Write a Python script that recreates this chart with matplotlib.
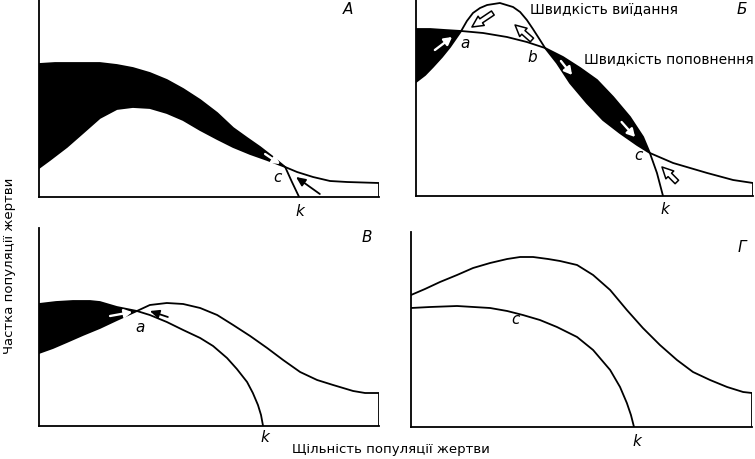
import numpy as np
import matplotlib
matplotlib.use("Agg")
import matplotlib.pyplot as plt

#prey density (arbitrary units, 0-100) and proportion of prey population (arbitrary units)
#panel A
xA_rec = [0, 4.7, 9.1, 13.5, 17.9, 22.9, 27.6, 32.6, 37.6, 42.4, 47.4, 52.4, 57.1, 61.2, 65.0, 68.8, 72.4, 74.4, 76.5]
yA_rec = [66.5, 67, 67, 67, 67, 66, 64.5, 62, 58.5, 54, 48.5, 42, 34.5, 29.5, 25, 20, 15, 7.5, 0]
xA_pred = [0, 3.2, 8.2, 12.9, 17.9, 22.9, 27.6, 32.6, 37.6, 42.4, 47.4, 52.4, 57.1, 62.1, 67.1, 72.4, 75.9, 80.6, 85.6, 90.6, 100, 100]
yA_pred = [14.5, 18.5, 25, 32, 39.5, 44, 45, 44.5, 42, 38.5, 33.5, 29, 25, 21.5, 18.5, 15, 12.5, 10, 8, 7.5, 7, 0]

#panel B (Б)
xB_rec = [0, 4.2, 8.6, 13.4, 19.9, 27.0, 32.9, 38.3, 43.6, 48.7, 53.7, 58.5, 63.5, 67.4, 69.4, 71.5, 73.3]
yB_rec = [83.5, 83.5, 83, 82.5, 81.5, 79.5, 77, 74, 69.5, 64, 58, 49.5, 39.5, 29.5, 21.5, 11.5, 0]
xB_pred = [0, 2.7, 5.0, 7.7, 10.1, 13.4, 15.1, 16.9, 19.0, 21.1, 24.9, 28.8, 30.9, 32.9, 34.7, 36.8, 38.3,
           41.8, 45.7, 50.7, 55.5, 60.5, 65.6, 69.4, 76.3, 86.4, 94.1, 100, 100]
yB_pred = [57, 60.5, 64.5, 69.5, 74.5, 82.5, 87.5, 91.5, 94, 95.5, 96.5, 94.5, 92, 88, 83.5, 78, 74,
           66.5, 56.5, 46.5, 38, 31.5, 25.5, 21.5, 16.5, 11.5, 8, 6.5, 0]

#panel V (В)
xV_rec = [0, 5, 10, 15, 17.9, 22.9, 28.8, 32.6, 37.6, 42.4, 47.4, 51.2, 55.3, 58.2, 61.2, 62.9, 64.4, 65.3, 65.9]
yV_rec = [61, 62, 62.5, 62.5, 62, 59.5, 57.5, 55.5, 52, 48, 44, 40, 34, 28.5, 22, 16.5, 10.5, 5.5, 0]
xV_pred = [0, 4.1, 8.2, 12.9, 17.9, 22.9, 28.8, 32.6, 37.6, 42.4, 47.4, 52.4, 57.1, 62.1, 67.1, 71.8,
           76.8, 81.8, 86.5, 92.4, 95.9, 100, 100]
yV_pred = [36.5, 39, 42, 45.5, 49, 53, 57.5, 60.5, 61.5, 61, 59, 55.5, 50.5, 45, 39, 33,
           27, 23, 20.5, 17.5, 16.5, 16.5, 0]

#panel G (Г)
xG_rec = [0, 5.6, 13.5, 23.2, 28.2, 32.8, 37.8, 42.8, 48.7, 53.4, 58.4, 61.3, 63.3, 64.5, 65.4]
yG_rec = [59.5, 60, 60.5, 59.5, 58, 56, 53.5, 50, 45, 38.5, 28.5, 20, 12, 6, 0]
xG_pred = [0, 4.1, 8.5, 13.5, 18.2, 23.2, 28.2, 32.0, 35.8, 40.2, 43.7, 48.7, 53.4, 58.4, 63.3, 68.0,
           73.0, 78.0, 82.7, 87.7, 92.7, 97.4, 100, 100]
yG_pred = [66, 69, 72.5, 76, 79.5, 82, 84, 85, 85, 84, 83, 81, 76, 68.5, 58.5, 49.5,
           41, 33.5, 27.5, 23.5, 20, 17.5, 17, 0]

#text
panelNames = ["A", "Б", "В", "Г"]
predLabel = "Швидкість виїдання"
recLabel = "Швидкість поповнення"
xLabel = "Щільність популяції жертви"
yLabel = "Частка популяції жертви"

plt.rcParams['font.family'] = ['DejaVu Sans']

fig = plt.figure(figsize=(7.55, 4.59), dpi=100)
W, H = 755.0, 459.0

def make_ax(left, bottom, top, width):
    #pixel box -> figure fraction
    ax = fig.add_axes([left / W, (H - bottom) / H, width / W, (bottom - top) / H])
    ax.set_xlim(0, 100)
    ax.set_ylim(0, (bottom - top) / 2.0)
    ax.spines['top'].set_visible(False)
    ax.spines['right'].set_visible(False)
    ax.spines['left'].set_linewidth(1.3)
    ax.spines['bottom'].set_linewidth(1.3)
    ax.set_xticks([])
    ax.set_yticks([])
    ax.patch.set_alpha(0)
    return ax

def fill_region(ax, xu, yu, xl, yl, x0, x1):
    #black area between upper (recruitment) and lower (predation) curve
    xu = np.array(xu); yu = np.array(yu); xl = np.array(xl); yl = np.array(yl)
    mu = (xu >= x0 - 1e-6) & (xu <= x1 + 1e-6)
    ml = (xl >= x0 - 1e-6) & (xl <= x1 + 1e-6)
    px = np.concatenate([xu[mu], xl[ml][::-1]])
    py = np.concatenate([yu[mu], yl[ml][::-1]])
    ax.fill(px, py, color='black', lw=0)

def arrow(ax, x0, y0, x1, y1, kind):
    if kind == 'black':
        props = dict(arrowstyle='-|>,head_width=0.25,head_length=0.55', color='black', lw=1.3)
    elif kind == 'white':
        props = dict(arrowstyle='-|>,head_width=0.25,head_length=0.45', color='white', lw=1.7)
    else:
        #open (outlined) arrow
        props = dict(arrowstyle='simple,head_width=0.5,head_length=0.5,tail_width=0.22',
                     fc='white', ec='black', lw=1.1, mutation_scale=16)
    props['shrinkA'] = 0
    props['shrinkB'] = 0
    ax.annotate('', xy=(x1, y1), xytext=(x0, y0), arrowprops=props)

lw = 1.3
fs = 10
ital = dict(fontsize=11, style='italic')

#panel A
ax = make_ax(39, 197, 0, 340)
fill_region(ax, xA_rec, yA_rec, xA_pred, yA_pred, 0, 72.4)
ax.plot(xA_rec, yA_rec, color='black', lw=lw)
ax.plot(xA_pred, yA_pred, color='black', lw=lw)
arrow(ax, 66.5, 21.5, 70.9, 16.5, 'white')
arrow(ax, 82.6, 1.5, 75.6, 10, 'black')
ax.text(90.9, 93.5, panelNames[0], ha='center', va='center', **ital)
ax.text(70, 10, "c", ha='center', va='center', **ital)
ax.text(76.8, -7, "k", ha='center', va='center', clip_on=False, **ital)

#panel Б
ax = make_ax(416, 196, 0, 337)
fill_region(ax, xB_rec, yB_rec, xB_pred, yB_pred, 0, 13.4)
fill_region(ax, xB_rec, yB_rec, xB_pred, yB_pred, 38.3, 69.4)
ax.plot(xB_rec, yB_rec, color='black', lw=lw)
ax.plot(xB_pred, yB_pred, color='black', lw=lw)
arrow(ax, 5.6, 73, 10.7, 79.5, 'white')
arrow(ax, 22.8, 91.5, 16.6, 84.5, 'hollow')
arrow(ax, 34.4, 78, 29.4, 85.5, 'hollow')
arrow(ax, 43.0, 67.5, 46.3, 60.5, 'white')
arrow(ax, 61.0, 37, 65, 29.5, 'white')
arrow(ax, 77.4, 7, 73, 14.5, 'hollow')
ax.text(96.7, 93, panelNames[1], ha='center', va='center', **ital)
ax.text(33.8, 93, predLabel, ha='left', va='center', fontsize=fs)
ax.text(49.9, 68, recLabel, ha='left', va='center', fontsize=fs)
ax.text(14.5, 76.5, "a", ha='center', va='center', **ital)
ax.text(34.4, 69.5, "b", ha='center', va='center', **ital)
ax.text(65.9, 20.5, "c", ha='center', va='center', **ital)
ax.text(73.9, -7, "k", ha='center', va='center', clip_on=False, **ital)

#panel В
ax = make_ax(39, 426, 228, 340)
fill_region(ax, xV_rec, yV_rec, xV_pred, yV_pred, 0, 28.8)
ax.plot(xV_rec, yV_rec, color='black', lw=lw)
ax.plot(xV_pred, yV_pred, color='black', lw=lw)
arrow(ax, 20.9, 55, 27.4, 57, 'white')
arrow(ax, 37.9, 54.5, 32.6, 57.5, 'black')
ax.text(96.5, 94, panelNames[2], ha='center', va='center', **ital)
ax.text(29.7, 49, "a", ha='center', va='center', **ital)
ax.text(66.5, -6, "k", ha='center', va='center', clip_on=False, **ital)

#panel Г
ax = make_ax(411, 427, 232, 341)
ax.plot(xG_rec, yG_rec, color='black', lw=lw)
ax.plot(xG_pred, yG_pred, color='black', lw=lw)
ax.text(97, 90, panelNames[3], ha='center', va='center', **ital)
ax.text(30.5, 54, "c", ha='center', va='center', **ital)
ax.text(66.3, -7.5, "k", ha='center', va='center', clip_on=False, **ital)

#axis titles for the whole figure
fig.text(391 / W, (H - 449) / H, xLabel, ha='center', va='center', fontsize=9.5)
fig.text(10 / W, (H - 266) / H, yLabel, ha='center', va='center', rotation=90, fontsize=9.5)

fig.savefig("out.png", dpi=100)
